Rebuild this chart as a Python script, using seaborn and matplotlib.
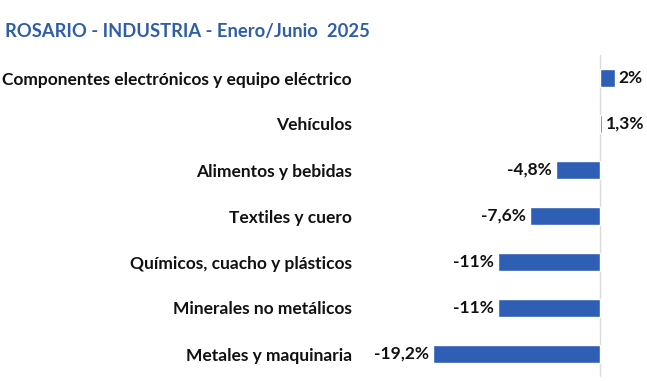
import matplotlib
matplotlib.use("Agg")
import matplotlib.pyplot as plt
import seaborn as sns
import pandas as pd

categories = ["Componentes electrónicos y equipo eléctrico", "Vehículos", "Alimentos y bebidas",
              "Textiles y cuero", "Químicos, cuacho y plásticos", "Minerales no metálicos",
              "Metales y maquinaria"]
# bar lengths
values = [1.63, 0.2, -4.8, -7.6, -11.1, -11.1, -18.15]
value_labels = ["2%", "1,3%", "-4,8%", "-7,6%", "-11%", "-11%", "-19,2%"]
title = "ROSARIO - INDUSTRIA - Enero/Junio  2025"

sns.set_theme(style="white")
plt.rcParams['font.family'] = ['Lato', 'DejaVu Sans']

df = pd.DataFrame({"cat": categories, "val": values})

fig = plt.figure(figsize=(6.47, 3.81), dpi=100)
ax = fig.add_axes([365/647, 4/381, 275/647, 322/381])
sns.barplot(data=df, y="cat", x="val", orient="h", color="#2F5FB4", width=0.37,
            saturation=1, ax=ax)
ax.set_xlim(-25.54, 4.35)
ax.set_ylim(6.5, -0.5)
for s in ax.spines.values():
    s.set_visible(False)
ax.axvline(0, color="#D9D9D9", lw=1, zorder=0)
ax.set_xticks([])
ax.set_xlabel("")
ax.set_ylabel("")
ax.tick_params(axis="y", length=0, pad=9.4)
for t in ax.get_yticklabels():
    t.set_fontweight("bold")
    t.set_fontsize(12.5)
    t.set_color("#111111")

for i, (v, lab) in enumerate(zip(values, value_labels)):
    if v >= 0:
        ax.annotate(lab, (v, i), xytext=(2.8, 0), textcoords="offset points",
                    ha="left", va="center", fontsize=12.5, fontweight="bold", color="#111111")
    else:
        ax.annotate(lab, (v, i), xytext=(-3, 0), textcoords="offset points",
                    ha="right", va="center", fontsize=12.5, fontweight="bold", color="#111111")

fig.text(5/647, 1 - 31/381, title, ha="left", va="center", fontsize=13.2, fontweight="bold",
         color="#2E5EA8")

fig.savefig("out.png", dpi=100)
